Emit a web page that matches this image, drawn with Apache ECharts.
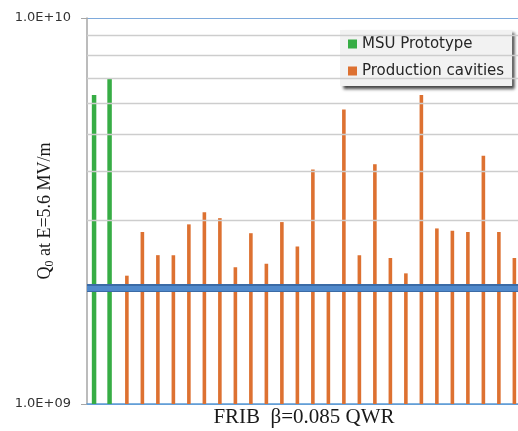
<!DOCTYPE html>
<html>
<head>
<meta charset="utf-8">
<style>
html,body{margin:0;padding:0;background:#fff;}
#chart{width:518px;height:431px;}
</style>
<script src="https://cdn.jsdelivr.net/npm/echarts@6/dist/echarts.min.js"></script>
</head>
<body>
<div id="chart"></div>
<script>
// ---- data ----
var prototypeNames = ['MSU-1', 'MSU-2'];
var prototypeValues = [6.32e9, 6.99e9];
var productionValues = [
  2.15e9, 2.79e9, 2.43e9, 2.43e9, 2.92e9, 3.14e9, 3.03e9, 2.26e9, 2.77e9,
  2.31e9, 2.96e9, 2.56e9, 4.05e9, 1.95e9, 5.79e9, 2.43e9, 4.18e9, 2.39e9,
  2.18e9, 6.32e9, 2.85e9, 2.81e9, 2.79e9, 4.40e9, 2.79e9, 2.39e9
];
var specValue = 2.0e9;
var tickValues = [1e9, 1e10];
var tickLabels = ['1.0E+09', '1.0E+10'];
var minorGridValues = [2e9, 3e9, 4e9, 5e9, 6e9, 7e9, 8e9, 9e9];

// ---- build ----
var categories = prototypeNames.slice();
for (var i = 0; i < productionValues.length; i++) categories.push('C' + (i + 1));
var greenData = categories.map(function (c, i) { return i < prototypeValues.length ? prototypeValues[i] : null; });
var orangeData = categories.map(function (c, i) { return i < prototypeValues.length ? null : productionValues[i - prototypeValues.length]; });

var chart = echarts.init(document.getElementById('chart'), null, {renderer: 'canvas'});
chart.setOption({
  animation: false,
  backgroundColor: '#ffffff',
  grid: {left: 87, right: -3, top: 18, bottom: 27, containLabel: false, outerBoundsMode: 'none'},
  legend: {
    data: ['MSU Prototype', 'Production cavities'],
    orient: 'vertical',
    left: 340, top: 30,
    padding: [5, 8, 6, 8],
    itemGap: 9,
    itemWidth: 9, itemHeight: 9,
    icon: 'rect',
    backgroundColor: '#f2f2f2',
    borderWidth: 0,
    shadowBlur: 3, shadowColor: 'rgba(0,0,0,0.75)', shadowOffsetX: 3, shadowOffsetY: 3,
    textStyle: {fontFamily: 'DejaVu Sans', fontSize: 15, color: '#262626', lineHeight: 18}
  },
  xAxis: {
    type: 'category',
    data: categories,
    name: 'FRIB  \u03b2=0.085 QWR',
    nameLocation: 'middle',
    nameGap: 3,
    nameMoveOverlap: false,
    nameTextStyle: {fontFamily: 'Liberation Serif', fontSize: 21, color: '#1a1a1a', verticalAlign: 'top'},
    axisLine: {show: true, lineStyle: {color: '#5b9bd5', width: 1.5}},
    axisTick: {show: false},
    axisLabel: {show: false},
    splitLine: {show: false}
  },
  yAxis: {
    type: 'log',
    logBase: 10,
    min: 1e9,
    max: 1e10,
    name: '{a|Q}{b|0}{a| at E=5.6 MV/m}',
    nameLocation: 'middle',
    nameGap: 33,
    nameMoveOverlap: false,
    nameRotate: 90,
    nameTextStyle: {
      fontFamily: 'Liberation Serif', fontSize: 18, color: '#1a1a1a',
      rich: {
        a: {fontFamily: 'Liberation Serif', fontSize: 18, color: '#1a1a1a', lineHeight: 22, verticalAlign: 'bottom'},
        b: {fontFamily: 'Liberation Serif', fontSize: 12, color: '#1a1a1a', lineHeight: 12, verticalAlign: 'bottom', padding: [0, 0, -2, 0]}
      }
    },
    axisLine: {show: true, lineStyle: {color: '#a6a6a6', width: 1.5}},
    axisTick: {show: true, length: 6, lineStyle: {color: '#a6a6a6', width: 1}},
    axisLabel: {
      margin: 16,
      fontFamily: 'DejaVu Sans', fontSize: 13, color: '#333333',
      formatter: function (v) {
        for (var k = 0; k < tickValues.length; k++) {
          if (Math.abs(v - tickValues[k]) / tickValues[k] < 1e-6) return tickLabels[k];
        }
        return '';
      }
    },
    splitLine: {show: true, lineStyle: {color: '#7eaadc', width: 1}},
    minorTick: {show: false},
    minorSplitLine: {show: false}
  },
  series: [
    {
      name: 'gridlines', type: 'line', data: [], silent: true, z: 1,
      markLine: {
        silent: true, symbol: 'none', label: {show: false}, animation: false,
        lineStyle: {color: '#cdcdcd', width: 1.3, type: 'solid'},
        data: minorGridValues.map(function (v) { return {yAxis: v}; })
      }
    },
    {
      name: 'MSU Prototype', type: 'bar', data: greenData, barWidth: 4.5, barGap: '-50%', z: 3,
      itemStyle: {color: '#37ad45'}
    },
    {
      name: 'Production cavities', type: 'bar', data: orangeData, barWidth: 3.6, barGap: '-50%', z: 3,
      itemStyle: {color: '#dd7131'}
    },
    {
      name: 'spec', type: 'line', data: [], silent: true, z: 5,
      markLine: {
        silent: true, symbol: 'none', label: {show: false}, animation: false,
        data: [
          {yAxis: specValue, lineStyle: {color: '#3b6ba6', width: 8, type: 'solid'}},
          {yAxis: specValue, lineStyle: {color: '#5089cb', width: 5, type: 'solid'}}
        ]
      }
    }
  ]
});
</script>
</body>
</html>
